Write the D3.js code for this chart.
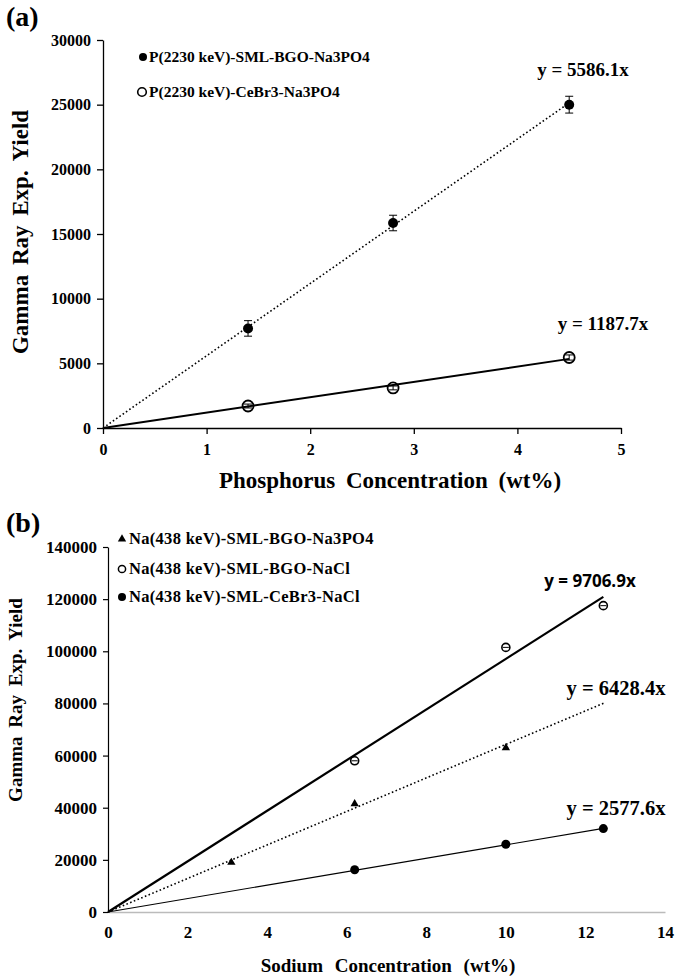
<!DOCTYPE html>
<html><head><meta charset="utf-8">
<script src="https://cdn.jsdelivr.net/npm/d3@7"></script>
<style>body{margin:0;background:#fff}svg{display:block}text{font-family:"Liberation Serif","Times New Roman",serif;font-weight:bold;fill:#000}</style>
</head><body>
<script>
// Panel (a)
const aXTicks = [0,1,2,3,4,5];
const aYTicks = [0,5000,10000,15000,20000,25000,30000];
const aConc = [1.4, 2.8, 4.5];
const aBGO = [7700, 15850, 25000];
const aBGOerr = [600, 600, 650];
const aCeBr3 = [1700, 3100, 5450];
const aCeBr3err = [150, 150, 200];
const aSlopes = [5586.1, 1187.7];
const aLegend = ["P(2230 keV)-SML-BGO-Na3PO4", "P(2230 keV)-CeBr3-Na3PO4"];
const aEq = ["y = 5586.1x", "y = 1187.7x"];

// Panel (b)
const bXTicks = [0,2,4,6,8,10,12,14];
const bYTicks = [0,20000,40000,60000,80000,100000,120000,140000];
const bConcPO4 = [3.1, 6.2, 10];
const bPO4 = [19000, 41500, 63000];
const bConcNaCl = [6.2, 10, 12.45];
const bBGONaCl = [58000, 101500, 117500];
const bCeBr3NaCl = [16200, 26000, 32000];
const bSlopes = [6428.4, 9706.9, 2577.6];
const bFitEnd = [12.5, 12.45, 12.45];
const bLegend = ["Na(438 keV)-SML-BGO-Na3PO4", "Na(438 keV)-SML-BGO-NaCl", "Na(438 keV)-SML-CeBr3-NaCl"];
const bEq = ["y = 6428.4x", "y = 9706.9x", "y = 2577.6x"];

const svg = d3.select("body").append("svg").attr("width",685).attr("height",978);

// ---------- Panel (a) ----------
const ax = d3.scaleLinear().domain([0,5]).range([103,621]);
const ay = d3.scaleLinear().domain([0,30000]).range([428,40]);
const ga = svg.append("g");
ga.append("text").attr("x",6).attr("y",26).attr("font-size",28).text("(a)");
const aYAxis = ga.append("g").attr("transform","translate(103,0)")
  .call(d3.axisLeft(ay).tickValues(aYTicks).tickSize(6).tickSizeOuter(0).tickFormat(d3.format("d")));
aYAxis.selectAll("text").attr("font-size",16).attr("dx","-3");
const aXAxis = ga.append("g").attr("transform","translate(0,428)")
  .call(d3.axisBottom(ax).tickValues(aXTicks).tickSize(6).tickSizeOuter(0).tickFormat(d3.format("d")));
aXAxis.selectAll("text").attr("font-size",16).attr("dy","1.1em");
[aYAxis,aXAxis].forEach(g=>{g.selectAll("path,line").attr("stroke","#000").attr("stroke-width",1.3);});
ga.append("text").attr("transform","translate(28,232) rotate(-90)").attr("text-anchor","middle")
  .attr("font-size",23).attr("word-spacing",4).text("Gamma Ray Exp. Yield");
ga.append("text").attr("x",390).attr("y",488).attr("text-anchor","middle")
  .attr("font-size",23).attr("word-spacing",5).text("Phosphorus Concentration (wt%)");

// fits
ga.append("line").attr("x1",ax(0)).attr("y1",ay(0)).attr("x2",ax(4.5)).attr("y2",ay(aSlopes[0]*4.5))
  .attr("stroke","#000").attr("stroke-width",1.6).attr("stroke-dasharray","1.6,2.4");
ga.append("line").attr("x1",ax(0)).attr("y1",ay(0)).attr("x2",ax(4.5)).attr("y2",ay(aSlopes[1]*4.5))
  .attr("stroke","#000").attr("stroke-width",2);

function errBars(g, xs, ys, es, xsc, ysc){
  xs.forEach((x,i)=>{
    const cx=xsc(x), y1=ysc(ys[i]-es[i]), y2=ysc(ys[i]+es[i]);
    g.append("line").attr("x1",cx).attr("x2",cx).attr("y1",y1).attr("y2",y2).attr("stroke","#000").attr("stroke-width",1);
    [y1,y2].forEach(yy=>g.append("line").attr("x1",cx-4).attr("x2",cx+4).attr("y1",yy).attr("y2",yy).attr("stroke","#000").attr("stroke-width",1));
  });
}
errBars(ga, aConc, aBGO, aBGOerr, ax, ay);
errBars(ga, aConc, aCeBr3, aCeBr3err, ax, ay);
aConc.forEach((x,i)=>{
  ga.append("circle").attr("cx",ax(x)).attr("cy",ay(aBGO[i])).attr("r",5).attr("fill","#000");
  ga.append("circle").attr("cx",ax(x)).attr("cy",ay(aCeBr3[i])).attr("r",5.5).attr("fill","none").attr("stroke","#000").attr("stroke-width",1.8);
});
// legend a
ga.append("circle").attr("cx",143).attr("cy",57).attr("r",4).attr("fill","#000");
ga.append("text").attr("x",149).attr("y",62).attr("font-size",15.5).text(aLegend[0]);
ga.append("circle").attr("cx",142).attr("cy",92).attr("r",4.3).attr("fill","none").attr("stroke","#000").attr("stroke-width",1.6);
ga.append("text").attr("x",149).attr("y",97).attr("font-size",15.5).text(aLegend[1]);
ga.append("text").attr("x",583).attr("y",76).attr("text-anchor","middle").attr("font-size",19).text(aEq[0]);
ga.append("text").attr("x",603).attr("y",330).attr("text-anchor","middle").attr("font-size",19).text(aEq[1]);

// ---------- Panel (b) ----------
const bx = d3.scaleLinear().domain([0,14]).range([108,665]);
const by = d3.scaleLinear().domain([0,140000]).range([912,547]);
const gb = svg.append("g");
gb.append("text").attr("x",6).attr("y",532).attr("font-size",28).text("(b)");
const bYAxis = gb.append("g").attr("transform","translate(108,0)")
  .call(d3.axisLeft(by).tickValues(bYTicks).tickSize(5).tickSizeOuter(0).tickFormat(d3.format("d")));
bYAxis.selectAll("text").attr("font-size",17).attr("dx","-3");
bYAxis.selectAll("path,line").attr("stroke","#000").attr("stroke-width",1.2);
const bXAxis = gb.append("g").attr("transform","translate(0,912)")
  .call(d3.axisBottom(bx).tickValues(bXTicks).tickSize(0).tickSizeOuter(0).tickFormat(d3.format("d")));
bXAxis.selectAll("text").attr("font-size",17).attr("dy","1.35em");
bXAxis.select("path").attr("stroke","#bbb").attr("stroke-width",1.5);
gb.append("text").attr("transform","translate(22,700) rotate(-90)").attr("text-anchor","middle")
  .attr("font-size",19).attr("word-spacing",4).text("Gamma Ray Exp. Yield");
gb.append("text").attr("x",388).attr("y",972).attr("text-anchor","middle")
  .attr("font-size",19).attr("word-spacing",7).text("Sodium Concentration (wt%)");

// fits
const bStyles = [{w:1.6,d:"1.6,2.4"},{w:2.2,d:null},{w:1.1,d:null}];
bSlopes.forEach((s,i)=>{
  const l = gb.append("line").attr("x1",bx(0)).attr("y1",by(0)).attr("x2",bx(bFitEnd[i])).attr("y2",by(s*bFitEnd[i]))
    .attr("stroke","#000").attr("stroke-width",bStyles[i].w);
  if(bStyles[i].d) l.attr("stroke-dasharray",bStyles[i].d);
});
const tri = d3.symbol().type(d3.symbolTriangle).size(30);
bConcPO4.forEach((x,i)=>{
  gb.append("path").attr("d",tri).attr("transform",`translate(${bx(x)},${by(bPO4[i])})`).attr("fill","#000");
});
bConcNaCl.forEach((x,i)=>{
  const cx=bx(x), cy=by(bBGONaCl[i]);
  gb.append("circle").attr("cx",cx).attr("cy",cy).attr("r",4).attr("fill","none").attr("stroke","#000").attr("stroke-width",1.6);
  gb.append("line").attr("x1",cx-3).attr("x2",cx+3).attr("y1",cy).attr("y2",cy).attr("stroke","#000").attr("stroke-width",1);
  gb.append("circle").attr("cx",cx).attr("cy",by(bCeBr3NaCl[i])).attr("r",4.5).attr("fill","#000");
});
// legend b
gb.append("path").attr("d",d3.symbol().type(d3.symbolTriangle).size(30)).attr("transform","translate(122,539)").attr("fill","#000");
gb.append("text").attr("x",129).attr("y",544).attr("font-size",16.5).attr("letter-spacing",0.3).text(bLegend[0]);
gb.append("circle").attr("cx",122).attr("cy",569).attr("r",3.6).attr("fill","none").attr("stroke","#000").attr("stroke-width",1.5);
gb.append("text").attr("x",129).attr("y",574).attr("font-size",16.5).attr("letter-spacing",0.3).text(bLegend[1]);
gb.append("circle").attr("cx",122).attr("cy",597).attr("r",4).attr("fill","#000");
gb.append("text").attr("x",129).attr("y",602).attr("font-size",16.5).attr("letter-spacing",0.3).text(bLegend[2]);
gb.append("text").attr("x",590).attr("y",587).attr("text-anchor","middle").attr("font-size",17)
  .style("font-family","'Open Sans','DejaVu Sans',sans-serif").style("font-weight","bold").text(bEq[1]);
gb.append("text").attr("x",616).attr("y",695).attr("text-anchor","middle").attr("font-size",20.5).text(bEq[0]);
gb.append("text").attr("x",616).attr("y",815).attr("text-anchor","middle").attr("font-size",20.5).text(bEq[2]);
</script>
</body></html>
